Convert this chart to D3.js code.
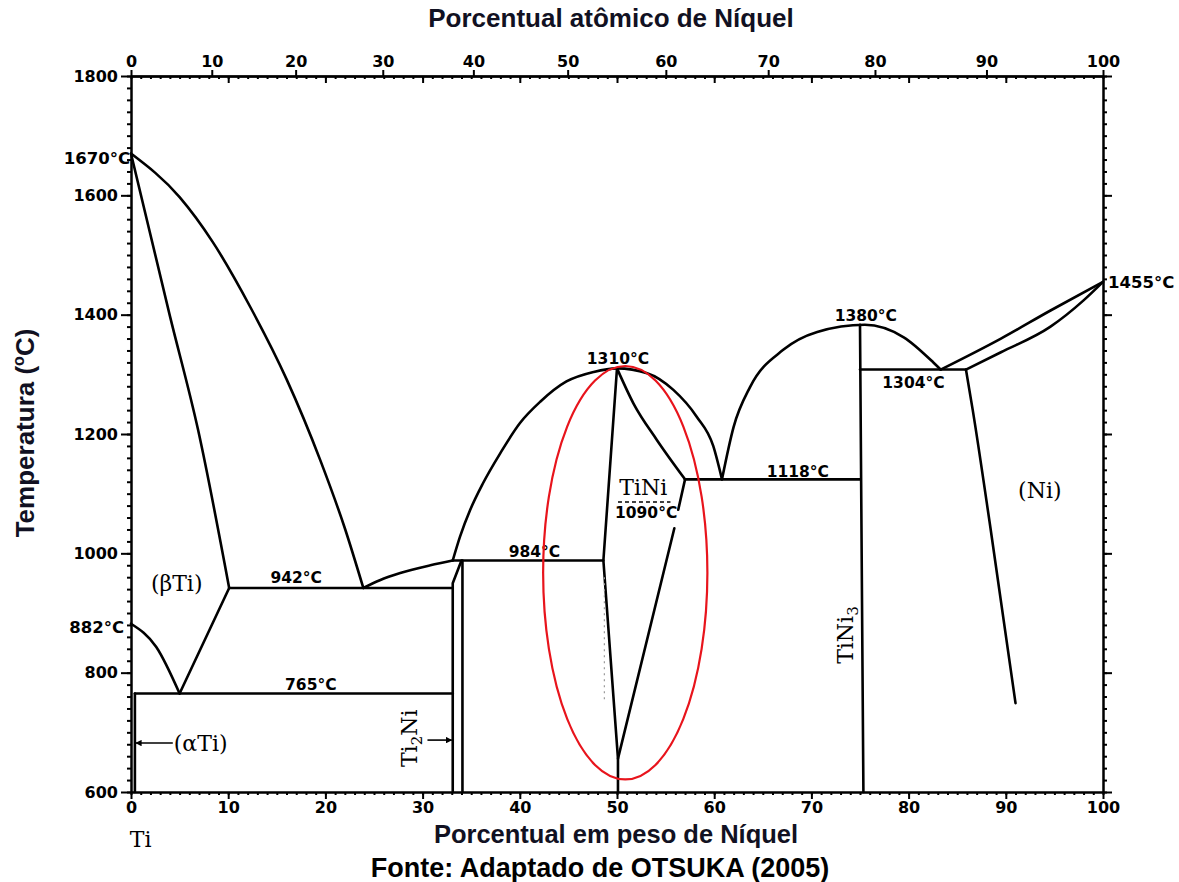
<!doctype html>
<html lang="pt">
<head>
  <meta charset="utf-8">
  <title>Diagrama Ti-Ni</title>
  <style>
    body { margin: 0; background: #fff; }
    .boundary { fill: none; stroke: #000; stroke-width: 2.6; stroke-linejoin: round; stroke-linecap: round; }
    .axis path, .axis line { stroke: #000; stroke-width: 2; }
    .axis text { font-family: "DejaVu Sans", sans-serif; font-weight: bold; font-size: 16px; fill: #000; }
    .temp { font-family: "DejaVu Sans", sans-serif; font-weight: bold; font-size: 15.5px; fill: #000; }
    .temp.side { font-size: 16.5px; }
    .phase { font-family: "DejaVu Serif", serif; font-size: 22px; fill: #000; }
    .title { font-family: "Liberation Sans", Arial, sans-serif; font-weight: bold; font-size: 25.5px; fill: #111122; }
  </style>
</head>
<body>
  <div id="chart"></div>
  <script src="https://cdn.jsdelivr.net/npm/d3@7"></script>
  <script>
// phase boundaries, [peso % Ni, temperatura °C]
var liqTiSide    = [[0,1670],[5.0,1597],[8.4,1522],[12.3,1412],[16.0,1292],[19.5,1155],[22.0,1042],[23.9,942]];
var betaSolidus  = [[0,1670],[4.0,1398],[6.9,1207],[10.1,942]];
var betaTransus  = [[0,882],[2.6,843],[5.0,765]];
var betaEutectoid = [[5.0,765],[10.1,942]];
var eut942       = [[10.1,942],[33.1,942]];
var eut765       = [[0.4,765],[33.1,765]];
var alphaSolvus  = [[0.4,765],[0.4,600]];
var ti2NiLeft    = [[33.1,600],[33.1,950],[34.0,988]];
var ti2NiRight   = [[34.1,600],[34.1,988]];
var liqTi2Ni     = [[23.9,942],[25.6,955],[27.7,967],[30.8,980],[33.1,988]];
var peri984      = [[33.1,988],[48.6,988]];
var liqTiNi      = [[33.1,988],[33.85,1028],[34.9,1073],[36.2,1117],[38.0,1168],[40.0,1218],[42.1,1254],
                    [44.8,1288],[47.6,1304],[50.0,1310],[53.1,1302],[55.8,1274],[58.2,1229],[59.9,1180],
                    [60.8,1124]];
var tiNiLeft     = [[50.0,1310],[48.6,988],[50.1,656],[50.1,600]];
var tiNiRightUp  = [[50.0,1310],[51.7,1251],[54.1,1190],[57.0,1124]];
var tiNiRightA   = [[57.0,1124],[56.3,1073]];
var tiNiRightB   = [[55.9,1042],[50.1,656]];
var eut1118      = [[57.0,1124],[75.0,1124]];
var tiNi3Line    = [[75.0,1383],[75.35,600]];
var liqTiNi3     = [[60.8,1124],[62.0,1212],[63.7,1279],[67.1,1341],[70.6,1371],[75.5,1383],
                    [79.5,1362],[82.6,1319],[83.3,1308]];
var eut1304      = [[75.0,1308],[85.9,1308]];
var liqNi        = [[83.3,1308],[89.5,1360],[94.6,1407],[100,1455]];
var solNi        = [[85.9,1308],[89.5,1337],[94.6,1380],[98.0,1424],[100,1455]];
var solvusNi     = [[85.9,1308],[86.6,1240],[88.4,1045],[91.0,749]];
var dottedTiNi   = [[48.7,960],[48.7,755]];
var dashTiNi     = [[50.1,1086],[55.5,1086]];

// ticks
var bottomTicks = d3.range(0, 101, 10);
var topTicks = [0, 10, 20, 30, 40, 50, 60, 70, 80, 90, 100];
var tempTicks = [600, 800, 1000, 1200, 1400, 1600, 1800];

// red highlight around TiNi
var ellipseWt = [42.4, 59.3];
var ellipseT = [621, 1314];

// labels [text, wt, T]
var tempLabels = [
  ["942°C", 17.0, 960], ["765°C", 18.5, 781], ["984°C", 41.5, 1004], ["1310°C", 50.1, 1326],
  ["1090°C", 53.0, 1068], ["1118°C", 68.6, 1138], ["1380°C", 75.6, 1399], ["1304°C", 80.5, 1287]
];

(function() {
  var width = 1179, height = 882;
  var x = d3.scaleLinear().domain([0, 100]).range([131, 1103]);
  var y = d3.scaleLinear().domain([600, 1800]).range([792, 76]);

  // top scale: atomic positions of the labelled values
  var wtToAt = function(w) { return (w / 58.69) / (w / 58.69 + (100 - w) / 47.87) * 100; };
  var xTop = d3.scaleLinear().domain(topTicks).range(topTicks.map(function(t) { return x(wtToAt(t)); }));

  var svg = d3.select("#chart").append("svg")
      .attr("width", width).attr("height", height);

  var defs = svg.append("defs");
  defs.append("marker").attr("id", "arr").attr("viewBox", "0 0 10 10")
      .attr("refX", 9).attr("refY", 5).attr("markerWidth", 4).attr("markerHeight", 4)
      .attr("orient", "auto-start-reverse")
    .append("path").attr("d", "M0,0L10,5L0,10z").attr("fill", "#000");

  // axes
  svg.append("g").attr("class", "axis").attr("transform", "translate(0," + y(600) + ")")
    .call(d3.axisBottom(x).tickValues(bottomTicks).tickSize(7).tickSizeOuter(0).tickPadding(3).tickFormat(d3.format("d")));
  svg.append("g").attr("class", "axis").attr("transform", "translate(0," + y(600) + ")")
    .call(d3.axisBottom(x).tickValues(d3.range(0, 101, 1)).tickSize(3).tickSizeOuter(0).tickFormat(""));

  svg.append("g").attr("class", "axis").attr("transform", "translate(0," + y(1800) + ")")
    .call(d3.axisTop(xTop).tickValues(topTicks).tickSize(6).tickSizeOuter(0).tickPadding(3).tickFormat(d3.format("d")));
  svg.append("g").attr("class", "axis").attr("transform", "translate(0," + y(1800) + ")")
    .call(d3.axisBottom(x).tickValues(d3.range(0, 101, 1)).tickSize(3).tickSizeOuter(0).tickFormat(""));
  svg.append("g").attr("class", "axis").attr("transform", "translate(0," + y(1800) + ")")
    .call(d3.axisBottom(x).tickValues(d3.range(10, 100, 10)).tickSize(7).tickSizeOuter(0).tickFormat(""));

  svg.append("g").attr("class", "axis").attr("transform", "translate(" + x(0) + ",0)")
    .call(d3.axisLeft(y).tickValues(tempTicks).tickSize(10).tickSizeOuter(0).tickPadding(3).tickFormat(d3.format("d")));
  svg.append("g").attr("class", "axis").attr("transform", "translate(" + x(0) + ",0)")
    .call(d3.axisLeft(y).tickValues(d3.range(600, 1801, 20)).tickSize(4).tickSizeOuter(0).tickFormat(""));

  svg.append("g").attr("class", "axis").attr("transform", "translate(" + x(100) + ",0)")
    .call(d3.axisRight(y).tickValues(tempTicks).tickSize(9).tickSizeOuter(0).tickFormat(""));
  svg.append("g").attr("class", "axis").attr("transform", "translate(" + x(100) + ",0)")
    .call(d3.axisRight(y).tickValues(d3.range(600, 1801, 20)).tickSize(4).tickSizeOuter(0).tickFormat(""));

  svg.selectAll(".axis .tick line").attr("stroke-width", 1.6);

  // phase boundaries
  var straight = d3.line().x(function(d) { return x(d[0]); }).y(function(d) { return y(d[1]); });
  var curved = d3.line().x(function(d) { return x(d[0]); }).y(function(d) { return y(d[1]); })
      .curve(d3.curveMonotoneX);

  var curves = [liqTiSide, betaSolidus, betaTransus, liqTi2Ni, liqTiNi, tiNiRightUp, liqTiNi3, liqNi, solNi, solvusNi];
  var lines = [betaEutectoid, eut942, eut765, alphaSolvus, ti2NiLeft, ti2NiRight, peri984, tiNiLeft,
               tiNiRightA, tiNiRightB, eut1118, tiNi3Line, eut1304];

  var map = svg.append("g");
  map.selectAll("path.c").data(curves).enter().append("path")
      .attr("class", "boundary c").attr("d", curved);
  map.selectAll("path.s").data(lines).enter().append("path")
      .attr("class", "boundary s").attr("d", straight);

  map.append("path").attr("d", straight(dottedTiNi))
      .attr("fill", "none").attr("stroke", "#999").attr("stroke-width", 1.2).attr("stroke-dasharray", "2,4");
  map.append("path").attr("d", straight(dashTiNi))
      .attr("fill", "none").attr("stroke", "#000").attr("stroke-width", 1.4).attr("stroke-dasharray", "4,3");

  // arrows
  map.append("path").attr("d", straight([[30.5, 687], [33.0, 687]]))
      .attr("stroke", "#000").attr("stroke-width", 1.6).attr("marker-end", "url(#arr)");
  map.append("path").attr("d", straight([[4.3, 682], [0.5, 682]]))
      .attr("stroke", "#000").attr("stroke-width", 1.6).attr("marker-end", "url(#arr)");

  // temperature labels
  svg.selectAll("text.t").data(tempLabels).enter().append("text")
      .attr("class", "temp t")
      .attr("x", function(d) { return x(d[1]); })
      .attr("y", function(d) { return y(d[2]); })
      .attr("text-anchor", "middle").attr("dy", "0.36em")
      .text(function(d) { return d[0]; });

  svg.append("text").attr("class", "temp side").attr("x", x(0) - 1).attr("y", y(1670) + 4)
      .attr("text-anchor", "end").attr("dy", "0.36em").text("1670°C");
  svg.append("text").attr("class", "temp side").attr("x", x(0) - 7).attr("y", y(882) + 3)
      .attr("text-anchor", "end").attr("dy", "0.36em").text("882°C");
  svg.append("text").attr("class", "temp side").attr("x", x(100) + 5).attr("y", y(1455))
      .attr("text-anchor", "start").attr("dy", "0.36em").text("1455°C");

  // phase labels
  svg.append("text").attr("class", "phase").attr("x", x(52.7)).attr("y", y(1111))
      .attr("text-anchor", "middle").attr("dy", "0.36em").text("TiNi");
  svg.append("text").attr("class", "phase").attr("x", x(93.5)).attr("y", y(1106))
      .attr("text-anchor", "middle").attr("dy", "0.36em").text("(Ni)");
  svg.append("text").attr("class", "phase").attr("x", x(4.7)).attr("y", y(950))
      .attr("text-anchor", "middle").attr("dy", "0.36em").text("(βTi)");
  svg.append("text").attr("class", "phase").attr("x", x(4.4)).attr("y", y(682))
      .attr("text-anchor", "start").attr("dy", "0.36em").text("(αTi)");
  svg.append("text").attr("class", "phase").attr("x", x(1.0)).attr("y", y(600) + 55)
      .attr("text-anchor", "middle").text("Ti");

  var t2 = svg.append("text").attr("class", "phase")
      .attr("transform", "translate(" + (x(28.6) + 8) + "," + y(690) + ") rotate(-90)")
      .attr("text-anchor", "middle");
  t2.append("tspan").text("Ti");
  t2.append("tspan").attr("font-size", "15px").attr("dy", "5").text("2");
  t2.append("tspan").attr("dy", "-5").text("Ni");

  var t3 = svg.append("text").attr("class", "phase")
      .attr("transform", "translate(" + (x(73.5) + 8) + "," + y(863) + ") rotate(-90)")
      .attr("text-anchor", "middle");
  t3.append("tspan").text("TiNi");
  t3.append("tspan").attr("font-size", "15px").attr("dy", "5").text("3");

  // red ellipse
  svg.append("ellipse")
      .attr("cx", (x(ellipseWt[0]) + x(ellipseWt[1])) / 2)
      .attr("cy", (y(ellipseT[0]) + y(ellipseT[1])) / 2)
      .attr("rx", (x(ellipseWt[1]) - x(ellipseWt[0])) / 2)
      .attr("ry", (y(ellipseT[0]) - y(ellipseT[1])) / 2)
      .attr("fill", "none").attr("stroke", "#e8141c").attr("stroke-width", 2.2);

  // titles
  svg.append("text").attr("class", "title").style("font-size", "26px").attr("x", 611).attr("y", 27)
      .attr("text-anchor", "middle").text("Porcentual atômico de Níquel");
  svg.append("text").attr("class", "title").attr("x", 616).attr("y", 843)
      .attr("text-anchor", "middle").text("Porcentual em peso de Níquel");
  svg.append("text").attr("class", "title").attr("x", 600).attr("y", 877)
      .style("fill", "#000").style("font-size", "27px")
      .attr("text-anchor", "middle").text("Fonte: Adaptado de OTSUKA (2005)");
  var yt = svg.append("text").attr("class", "title").style("font-size", "26px")
      .attr("transform", "translate(34,433) rotate(-90)").attr("text-anchor", "middle");
  yt.append("tspan").text("Temperatura (");
  yt.append("tspan").attr("font-size", "16px").attr("dy", "-10").text("o");
  yt.append("tspan").attr("dy", "10").text("C)");
})();
  </script>
</body>
</html>
